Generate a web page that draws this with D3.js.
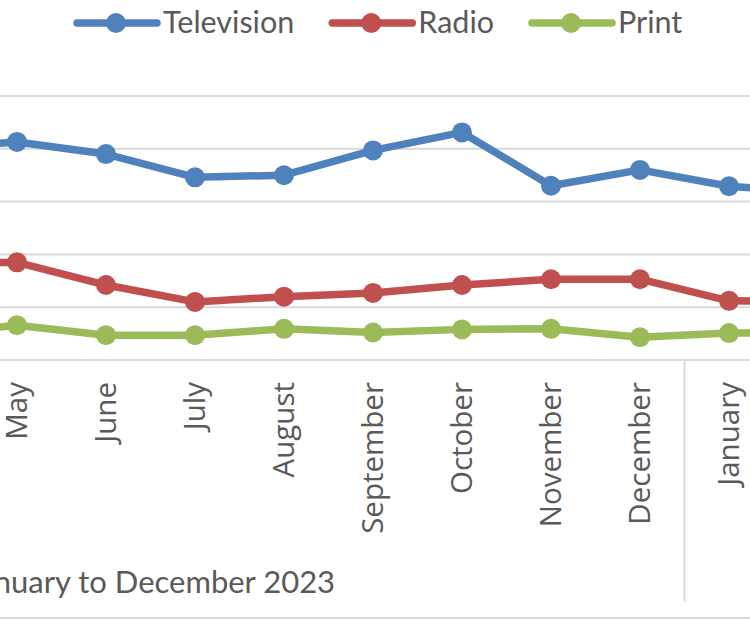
<!DOCTYPE html>
<html><head><meta charset="utf-8">
<script src="https://cdn.jsdelivr.net/npm/d3@7"></script>
<style>body{margin:0;background:#fff}svg{display:block}</style>
</head><body>
<svg id="c" width="750" height="620"></svg>
<script>
const months = ["April","May","June","July","August","September","October","November","December","January","February"];
const years = ["2023","2023","2023","2023","2023","2023","2023","2023","2023","2024","2024"];
const groupLabels = ["January to December 2023"];
const television = [40.0,41.3,39.0,34.6,35.0,39.7,43.1,33.0,36.0,32.9,31.8];
const radio      = [18.3,18.5,14.2,11.0,12.0,12.7,14.2,15.3,15.3,11.2,11.0];
const print      = [4.7, 6.6, 4.7, 4.7, 5.9, 5.2, 5.8, 5.9, 4.3, 5.1, 5.1];
const seriesNames = ["Television","Radio","Print"];
const yTicks = [0,10,20,30,40,50];

const colors = ["#4f81bd","#c0504d","#9bbb59"];
const series = [television, radio, print];
const svg = d3.select("#c");
const W = 750;
const x = d3.scalePoint().domain(d3.range(months.length)).range([-72, 818]);
const y = d3.scaleLinear().domain([0,50]).range([360,96]);
const step = x.step();

// gridlines
svg.append("g").selectAll("line").data(yTicks).join("line")
  .attr("x1",0).attr("x2",W).attr("y1",d=>y(d)).attr("y2",d=>y(d))
  .attr("stroke","#d9d9d9").attr("stroke-width",2);

// group divider between years
const divIdx = years.findIndex((v,i)=>i>0 && v!==years[i-1]);
svg.append("line").attr("x1",x(divIdx)-step/2).attr("x2",x(divIdx)-step/2)
  .attr("y1",y(0)).attr("y2",602).attr("stroke","#d9d9d9").attr("stroke-width",2);
// bottom border
svg.append("line").attr("x1",0).attr("x2",W).attr("y1",618).attr("y2",618)
  .attr("stroke","#d9d9d9").attr("stroke-width",2);

// month labels
svg.append("g").selectAll("text").data(months).join("text")
  .attr("transform",(d,i)=>`translate(${x(i)},382) rotate(-90)`)
  .attr("text-anchor","end").attr("dy","0.35em")
  .attr("font-family","'Open Sans', sans-serif").attr("font-size",29.5)
  .attr("fill","#595959").text(d=>d);

// group label: centred on 2023 group (12 months ending at December index)
const decIdx = divIdx-1;
const groupCenter = x(decIdx) + step/2 - 6*step;
svg.append("text").attr("x",groupCenter).attr("y",593).attr("text-anchor","middle")
  .attr("font-family","Lato, sans-serif").attr("font-size",31).attr("fill","#595959")
  .text(groupLabels[0]);

// lines
const line = d3.line().x((d,i)=>x(i)).y(d=>y(d));
series.forEach((s,k)=>{
  const g = svg.append("g");
  g.append("path").datum(s).attr("d",line).attr("fill","none")
    .attr("stroke",colors[k]).attr("stroke-width",7.5).attr("stroke-linejoin","round");
  g.selectAll("circle").data(s).join("circle")
    .attr("cx",(d,i)=>x(i)).attr("cy",d=>y(d)).attr("r",10).attr("fill",colors[k]);
});

// legend
const lg = svg.append("g");
let lx = 77;
seriesNames.forEach((n,k)=>{
  lg.append("line").attr("x1",lx).attr("x2",lx+80).attr("y1",23).attr("y2",23)
    .attr("stroke",colors[k]).attr("stroke-width",7.5).attr("stroke-linecap","round");
  lg.append("circle").attr("cx",lx+39).attr("cy",23).attr("r",10).attr("fill",colors[k]);
  const t = lg.append("text").attr("x",lx+86).attr("y",33)
    .attr("font-family","Lato, sans-serif").attr("font-size",30.5).attr("fill","#595959").text(n);
  lx = lx + 86 + t.node().getComputedTextLength() + 38;
});
</script>
</body></html>
